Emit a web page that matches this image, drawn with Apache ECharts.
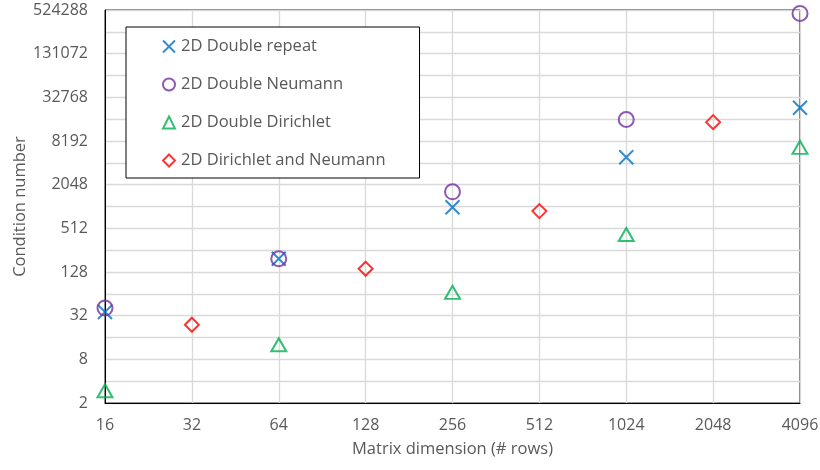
<!DOCTYPE html>
<html>
<head>
<meta charset="utf-8">
<script src="https://cdn.jsdelivr.net/npm/echarts@6/dist/echarts.min.js"></script>
<style>html,body{margin:0;padding:0;background:#fff}#c{width:820px;height:470px}</style>
</head>
<body>
<div id="c"></div>
<script>
var seriesNames = ['2D Double repeat', '2D Double Neumann', '2D Double Dirichlet', '2D Dirichlet and Neumann'];
var repeatX = [16, 64, 256, 1024, 4096];
var repeatY = [36, 195, 1000, 4900, 23500];
var neumannX = [16, 64, 256, 1024, 4096];
var neumannY = [40.7, 195, 1630, 16200, 470000];
var dirichletX = [16, 64, 256, 1024, 4096];
var dirichletY = [2.95, 12.7, 67, 421, 6700];
var mixedX = [32, 128, 512, 2048];
var mixedY = [24, 142, 885, 14900];
var xTicks = [16, 32, 64, 128, 256, 512, 1024, 2048, 4096];
var yTicks = [2, 8, 32, 128, 512, 2048, 8192, 32768, 131072, 524288];

function pairs(xs, ys) { return xs.map(function (x, i) { return [x, ys[i]]; }); }

var FONT = 'Open Sans';
var chart = echarts.init(document.getElementById('c'));
chart.setOption({
  animation: false,
  textStyle: { fontFamily: FONT },
  grid: { left: 105, right: 20, top: 10, bottom: 67, show: true, borderColor: '#000', borderWidth: 1,
    containLabel: false, outerBoundsMode: 'none' },
  legend: {
    orient: 'vertical',
    left: 126, top: 27,
    backgroundColor: '#fff',
    borderColor: '#000', borderWidth: 1,
    padding: [11, 34, 9, 36],
    itemWidth: 12, itemHeight: 12, itemGap: 21,
    textStyle: { fontFamily: FONT, fontSize: 16.5, color: '#595959', padding: [0, 0, 0, 1] },
    data: seriesNames
  },
  xAxis: {
    type: 'log', logBase: 2, min: 16, max: 4096, interval: 1,
    name: 'Matrix dimension (# rows)', nameLocation: 'middle', nameGap: 38, nameMoveOverlap: false,
    nameTextStyle: { fontFamily: FONT, fontSize: 16.5, color: '#595959' },
    axisLine: { show: true, lineStyle: { color: '#000', width: 1 } },
    axisTick: { show: false },
    axisLabel: { margin: 14, fontFamily: FONT, fontSize: 16, color: '#595959',
      formatter: function (v) { var r = Math.round(v); return xTicks.indexOf(r) >= 0 ? String(r) : ''; } },
    splitLine: { show: true, lineStyle: { color: '#d9d9d9', width: 1.3 } }
  },
  yAxis: {
    type: 'log', logBase: 2, min: 2, max: 524288, interval: 1,
    name: 'Condition number', nameLocation: 'middle', nameGap: 76, nameRotate: 90, nameMoveOverlap: false,
    nameTextStyle: { fontFamily: FONT, fontSize: 16.5, color: '#595959' },
    axisLine: { show: true, lineStyle: { color: '#000', width: 1 } },
    axisTick: { show: false },
    axisLabel: { margin: 17, fontFamily: FONT, fontSize: 16, color: '#595959',
      formatter: function (v) { var r = Math.round(v); return yTicks.indexOf(r) >= 0 ? String(r) : ''; } },
    splitLine: { show: true, lineStyle: { color: '#d9d9d9', width: 1.3 } }
  },
  series: [
    { name: seriesNames[0], type: 'scatter', data: pairs(repeatX, repeatY),
      symbol: 'path://M0,0L10,10M10,0L0,10', symbolSize: 14,
      itemStyle: { color: '#0070C0', borderColor: '#0070C0', borderWidth: 2 }, z: 3 },
    { name: seriesNames[1], type: 'scatter', data: pairs(neumannX, neumannY),
      symbol: 'circle', symbolSize: 15,
      itemStyle: { color: 'rgba(0,0,0,0)', borderColor: '#7030A0', borderWidth: 2 }, z: 4 },
    { name: seriesNames[2], type: 'scatter', data: pairs(dirichletX, dirichletY),
      symbol: 'triangle', symbolSize: [15, 13],
      itemStyle: { color: 'rgba(0,0,0,0)', borderColor: '#00B050', borderWidth: 2 }, z: 3 },
    { name: seriesNames[3], type: 'scatter', data: pairs(mixedX, mixedY),
      symbol: 'diamond', symbolSize: [14, 14],
      itemStyle: { color: 'rgba(0,0,0,0)', borderColor: '#FF0000', borderWidth: 2 }, z: 3 }
  ]
});
</script>
</body>
</html>
